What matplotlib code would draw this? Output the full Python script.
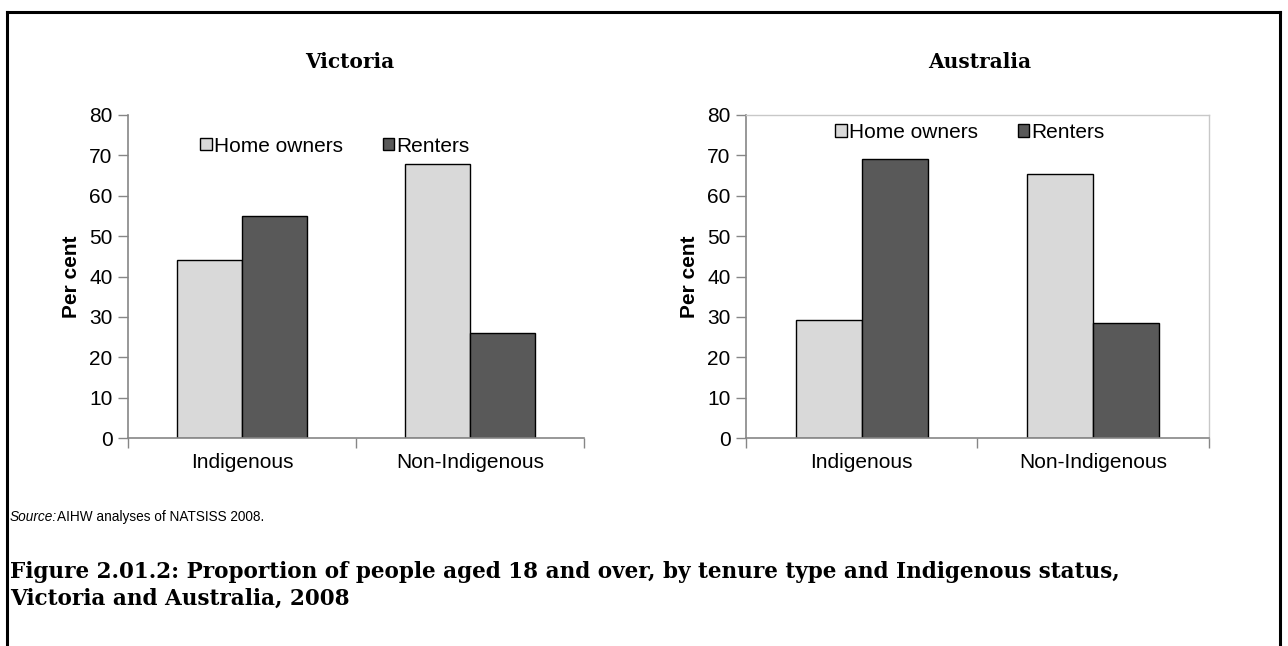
import matplotlib
matplotlib.use("Agg")
import numpy as np
from matplotlib import pyplot as plt
from matplotlib.patches import Patch
from matplotlib.lines import Line2D

W, H = 1288, 646

categories = ['Indigenous', 'Non-Indigenous']
series_names = ['Home owners', 'Renters']
victoria_home = [44.0, 67.8]
victoria_rent = [55.1, 26.1]
australia_home = [29.2, 65.3]
australia_rent = [69.1, 28.6]

HOME_COLOR = '#D9D9D9'
RENT_COLOR = '#595959'
AXIS_GRAY = '#868686'
BAR_W = 0.285

SANS = 'Liberation Sans'
SERIF = 'DejaVu Serif'
FS = 15


def px_rect(left, top, right, bottom):
    # pixel box (origin top-left) -> figure fraction rect
    return [left / W, 1 - bottom / H, (right - left) / W, (bottom - top) / H]


def draw_panel(ax, home, rent, legend_xy, framed):
    x = np.arange(len(categories))
    ax.bar(x - BAR_W / 2, home, BAR_W, color=HOME_COLOR, edgecolor='black', linewidth=1)
    ax.bar(x + BAR_W / 2, rent, BAR_W, color=RENT_COLOR, edgecolor='black', linewidth=1)
    ax.set_xlim(-0.5, len(categories) - 0.5)
    ax.set_ylim(0, 80)
    ax.set_yticks(range(0, 81, 10))
    ax.set_xticks(x)
    ax.set_xticklabels(categories, fontfamily=SANS, fontsize=FS)
    ax.set_xticks(np.arange(-0.5, len(categories), 1), minor=True)
    ax.tick_params(axis='x', which='major', length=0, pad=11)
    ax.tick_params(axis='x', which='minor', length=7, width=1, color=AXIS_GRAY, direction='out')
    ax.tick_params(axis='y', length=7, width=1, color=AXIS_GRAY, direction='out', pad=4)
    for lab in ax.get_yticklabels():
        lab.set_fontfamily(SANS)
        lab.set_fontsize(FS)
    for s in ['left', 'bottom']:
        ax.spines[s].set_color(AXIS_GRAY)
        ax.spines[s].set_linewidth(1.2)
    if framed:
        for s in ['top', 'right']:
            ax.spines[s].set_color('#C8C8C8')
            ax.spines[s].set_linewidth(1)
    else:
        ax.spines['top'].set_visible(False)
        ax.spines['right'].set_visible(False)
    ax.set_ylabel('Per cent', fontfamily=SANS, fontsize=FS, fontweight='bold', labelpad=6)
    handles = [Patch(facecolor=HOME_COLOR, edgecolor='black', linewidth=1),
               Patch(facecolor=RENT_COLOR, edgecolor='black', linewidth=1)]
    ax.legend(handles, series_names, ncol=2, frameon=False, loc='center',
              bbox_to_anchor=legend_xy, handlelength=0.55, handleheight=0.55,
              handletextpad=0.12, columnspacing=1.9,
              prop={'family': SANS, 'size': FS})


fig = plt.figure(figsize=(W / 100, H / 100), dpi=100)

ax1 = fig.add_axes(px_rect(128, 115, 584, 438))
draw_panel(ax1, victoria_home, victoria_rent, (0.454, 0.904), framed=False)
ax2 = fig.add_axes(px_rect(746, 115, 1209, 438))
draw_panel(ax2, australia_home, australia_rent, (0.484, 0.947), framed=True)

fig.text(350 / W, 1 - 62 / H, 'Victoria', ha='center', va='center',
         fontfamily=SERIF, fontweight='bold', fontsize=14.5)
fig.text(980 / W, 1 - 62 / H, 'Australia', ha='center', va='center',
         fontfamily=SERIF, fontweight='bold', fontsize=14.5)

# source line
fig.text(10 / W, 1 - 517 / H, 'Source:', ha='left', va='center',
         fontfamily=SANS, fontstyle='italic', fontsize=9.8)
fig.text(57 / W, 1 - 517 / H, 'AIHW analyses of NATSISS 2008.', ha='left', va='center',
         fontfamily=SANS, fontsize=9.8)

fig.text(10 / W, 1 - 572 / H,
         'Figure 2.01.2: Proportion of people aged 18 and over, by tenure type and Indigenous status,',
         ha='left', va='center', fontfamily=SERIF, fontweight='bold', fontsize=15.5)
fig.text(10 / W, 1 - 599 / H, 'Victoria and Australia, 2008',
         ha='left', va='center', fontfamily=SERIF, fontweight='bold', fontsize=15.5)

# outer frame (top, left, right)
for xs, ys in [([7, 1280], [12, 12]), ([7, 7], [12, H]), ([1280, 1280], [12, H])]:
    fig.add_artist(Line2D([v / W for v in xs], [1 - v / H for v in ys],
                          color='black', linewidth=2.2))

fig.savefig('out.png', dpi=100)
